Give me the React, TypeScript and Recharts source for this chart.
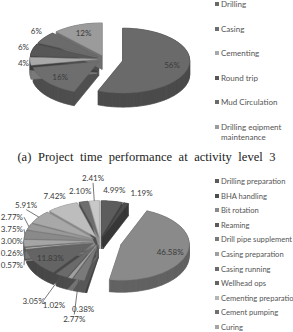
import React from "react";
import { PieChart, Pie, Cell } from "recharts";

// (a) activity level 3
const level3Names = ["Drilling", "Casing", "Cementing", "Round trip", "Mud Circulation", "Drilling eqipment maintenance"];
const level3Share = [56, 16, 4, 6, 6, 12];
const level3Tone = ["#6a6a6a", "#6e6e6e", "#a9a9a9", "#575757", "#6b6b6b", "#9b9b9b"];

// (b) activity level 4 - legend is cut off after "Curing", the last six names are guesses
const level4Names = [
  "Drilling preparation", "BHA handling", "Bit rotation", "Reaming", "Drill pipe supplement",
  "Casing preparation", "Casing running", "Wellhead ops", "Cementing preparation", "Cement pumping",
  "Curing", "BOP installation", "BOP testing", "Logging", "Waiting", "Rig repair", "Others",
];
const level4Share = [4.99, 1.19, 46.58, 0.38, 2.77, 1.02, 3.05, 11.83, 0.57, 0.26, 3.0, 3.75, 2.77, 5.91, 7.42, 2.1, 2.41];
const level4Tone = [
  "#5c5c5c", "#4d4d4d", "#8a8a8a", "#5a5a5a", "#7a7a7a", "#a0a0a0", "#6a6a6a", "#646464", "#b5b5b5",
  "#707070", "#a5a5a5", "#8a8a8a", "#9a9a9a", "#a8a8a8", "#bdbdbd", "#6e6e6e", "#c8c8c8",
];

type Geo = { cx: number; cy: number; r: number; ky: number; depth: number; push: number; bigPush: number; decimals: number };

const geo1: Geo = { cx: 105, cy: 59, r: 67, ky: 0.485, depth: 14, push: 8, bigPush: 18, decimals: 0 };
const geo2: Geo = { cx: 100, cy: 76, r: 68, ky: 0.53, depth: 12, push: 8, bigPush: 22, decimals: 2 };

const RAD = Math.PI / 180;
const LABEL_FONT = "Lato, 'Open Sans', sans-serif";
const PAGE_H = 332;

function darken(hex: string, f: number) {
  const n = parseInt(hex.slice(1), 16);
  const c = [(n >> 16) & 255, (n >> 8) & 255, n & 255].map((v) => Math.round(v * f));
  return `rgb(${c[0]},${c[1]},${c[2]})`;
}

// exploded vertex of a slice, on the tilted ellipse
function vertexOf(g: Geo, cx: number, cy: number, mid: number, frac: number) {
  const p = frac > 0.4 ? g.bigPush : g.push;
  return [cx + p * Math.cos(mid * RAD), cy - p * g.ky * Math.sin(mid * RAD)];
}

function slicePoints(g: Geo, vx: number, vy: number, r: number, a0: number, a1: number) {
  const n = Math.max(2, Math.ceil(Math.abs(a1 - a0) / 2));
  const pts: number[][] = [[vx, vy]];
  for (let i = 0; i <= n; i++) {
    const a = (a0 + ((a1 - a0) * i) / n) * RAD;
    pts.push([vx + r * Math.cos(a), vy - r * g.ky * Math.sin(a)]);
  }
  return pts;
}

function area(pts: number[][]) {
  let s = 0;
  for (let i = 0; i < pts.length; i++) {
    const a = pts[i];
    const b = pts[(i + 1) % pts.length];
    s += a[0] * b[1] - b[0] * a[1];
  }
  return s;
}

function sub(pts: number[][]) {
  const p = area(pts) < 0 ? [...pts].reverse() : pts;
  return "M" + p.map((q) => `${q[0].toFixed(2)},${q[1].toFixed(2)}`).join("L") + "Z";
}

function sideRenderer(g: Geo, tones: string[]) {
  return (props: any) => {
    const { cx, cy, outerRadius, startAngle, endAngle, percent, index } = props;
    const mid = (startAngle + endAngle) / 2;
    const [vx, vy] = vertexOf(g, cx, cy, mid, percent);
    const pts = slicePoints(g, vx, vy, outerRadius, startAngle, endAngle);
    const low = pts.map((q) => [q[0], q[1] + g.depth]);
    let d = sub(low);
    for (let i = 0; i < pts.length; i++) {
      const j = (i + 1) % pts.length;
      d += sub([pts[i], pts[j], low[j], low[i]]);
    }
    const side = darken(tones[index], 0.72);
    return <path key={`side-${index}`} d={d} fill={side} stroke={side} strokeWidth={0.4} fillRule="nonzero" />;
  };
}

function topRenderer(g: Geo, tones: string[]) {
  return (props: any) => {
    const { cx, cy, outerRadius, startAngle, endAngle, percent, index } = props;
    const mid = (startAngle + endAngle) / 2;
    const [vx, vy] = vertexOf(g, cx, cy, mid, percent);
    const pts = slicePoints(g, vx, vy, outerRadius, startAngle, endAngle);
    return <path key={`top-${index}`} d={sub(pts)} fill={tones[index]} stroke={darken(tones[index], 0.9)} strokeWidth={0.4} />;
  };
}

type Placed = { txt: string; x: number; y: number; anchor: "middle" | "end"; line?: number[] };

// data label placement: big slices inside, small ones outside, far-left ones stacked in a column
function placeLabels(shares: number[], g: Geo): Placed[] {
  const total = shares.reduce((a, b) => a + b, 0);
  let acc = 0;
  const out: Placed[] = [];
  const column: any[] = [];
  const rest: any[] = [];
  shares.forEach((v, i) => {
    const a0 = 90 - (acc / total) * 360;
    acc += v;
    const a1 = 90 - (acc / total) * 360;
    const mid = (a0 + a1) / 2;
    const c = Math.cos(mid * RAD);
    const s = Math.sin(mid * RAD);
    const [vx, vy] = vertexOf(g, g.cx, g.cy, mid, v / total);
    const txt = v.toFixed(g.decimals) + "%";
    const w = txt.length * 3.9;
    if (v / total >= 0.1) {
      out[i] = { txt, x: vx + 0.75 * g.r * c, y: vy - 0.75 * g.r * g.ky * s, anchor: "middle" };
      return;
    }
    const drop = s < 0 ? -s * (g.depth + 6) : 0;
    const ex = vx + g.r * c;
    const ey = vy - g.r * g.ky * s;
    const px = vx + (g.r + 6) * c;
    const py = vy - (g.ky * g.r + 6) * s + drop;
    const item = { i, txt, w, s, c, ex, ey, x: px + (c * w) / 2, y: py - s * 5, ny: py - s * 5 };
    if (c < -0.85) column.push(item);
    else rest.push(item);
  });

  // column on the left
  const colX = g.cx - g.r - 9;
  const gap = 12;
  column.sort((a, b) => a.ny - b.ny);
  const groups = column.map((it) => ({ items: [it], mean: it.ny }));
  let merged = true;
  while (merged) {
    merged = false;
    for (let k = 1; k < groups.length; k++) {
      const a = groups[k - 1];
      const b = groups[k];
      const aTop = a.mean - ((a.items.length - 1) * gap) / 2;
      const bTop = b.mean - ((b.items.length - 1) * gap) / 2;
      if (aTop + a.items.length * gap > bTop) {
        const items = [...a.items, ...b.items];
        groups.splice(k - 1, 2, { items, mean: items.reduce((s2, it) => s2 + it.ny, 0) / items.length });
        merged = true;
        break;
      }
    }
  }
  const boxes: number[][] = [];
  groups.forEach((gr) => {
    const top = gr.mean - ((gr.items.length - 1) * gap) / 2;
    gr.items.forEach((it: any, k: number) => {
      const y = top + k * gap;
      const dist = Math.hypot(it.ex - (colX + 1), it.ey - y);
      out[it.i] = { txt: it.txt, x: colX, y, anchor: "end", line: dist > 5 ? [colX + 1, y, it.ex, it.ey] : undefined };
      boxes.push([colX - it.w, y - 5, colX, y + 5]);
    });
  });

  // the rest: try small shifts (sideways / outwards) until free
  rest.forEach((it) => {
    const hit = (xx: number, yy: number) =>
      boxes.some((b) => xx - it.w / 2 < b[2] && xx + it.w / 2 > b[0] && yy - 5 < b[3] && yy + 5 > b[1]);
    const sx = it.c >= 0 ? 10 : -10;
    const sy = it.s > 0 ? -6 : 6;
    const tries: number[][] = [[0, 0]];
    for (let k = 1; k <= 6; k++) {
      if (it.s > 0) tries.push([sx * k, 0], [0, sy * k]);
      else tries.push([0, sy * k], [sx * k, 0]);
    }
    const pick = tries.find((t) => !hit(it.x + t[0], it.y + t[1])) || [0, 0];
    const x = it.x + pick[0];
    const y = it.y + pick[1];
    boxes.push([x - it.w / 2, y - 5, x + it.w / 2, y + 5]);
    const far = pick[1] !== 0 || Math.abs(pick[0]) > 10;
    const lx = pick[0] !== 0 ? x - (Math.sign(pick[0]) * it.w) / 2 : x;
    const ly = pick[0] !== 0 ? y : y + (it.s > 0 ? 5 : -5);
    const dist = Math.hypot(it.ex - lx, it.ey - ly);
    out[it.i] = { txt: it.txt, x, y, anchor: "middle", line: far && dist > 5 ? [lx, ly, it.ex, it.ey] : undefined };
  });
  return out;
}

function textRenderer(placed: Placed[]) {
  return (props: any) => {
    const p = placed[props.index];
    return (
      <g key={`lbl-${props.index}`}>
        {p.line && <line x1={p.line[0]} y1={p.line[1]} x2={p.line[2]} y2={p.line[3]} stroke="#555" strokeWidth={0.8} />}
        <text x={p.x} y={p.y} textAnchor={p.anchor} dominantBaseline="central" fontSize={8} fontFamily={LABEL_FONT} fill="#3a3a3a">
          {p.txt}
        </text>
      </g>
    );
  };
}

function Pie3D({ names, shares, tones, g, height }: { names: string[]; shares: number[]; tones: string[]; g: Geo; height: number }) {
  const data = names.map((name, i) => ({ name, value: shares[i] }));
  const placed = placeLabels(shares, g);
  const layers = [
    { id: "side", render: sideRenderer(g, tones) },
    { id: "top", render: topRenderer(g, tones) },
    { id: "text", render: textRenderer(placed) },
  ];
  return (
    <PieChart width={293} height={height} margin={{ top: 0, right: 0, bottom: 0, left: 0 }}>
      {layers.map((layer) => (
        <Pie
          key={layer.id}
          data={data}
          dataKey="value"
          nameKey="name"
          cx={g.cx}
          cy={g.cy}
          outerRadius={g.r}
          startAngle={90}
          endAngle={-270}
          stroke="none"
          label={layer.render}
          labelLine={false}
          isAnimationActive={false}
        >
          {data.map((_, i) => (
            <Cell key={`c-${i}`} fill="transparent" />
          ))}
        </Pie>
      ))}
    </PieChart>
  );
}

function LegendList({ names, tones, top, left, step, width, size }: { names: string[]; tones: string[]; top: number; left: number; step: number; width: number; size: number }) {
  // the picture only shows the entries that fit on the page
  const shown = names.filter((_, i) => top + i * step + 6 < PAGE_H);
  return (
    <div style={{ position: "absolute", left, top, width, fontFamily: LABEL_FONT, fontSize: size, color: "#555" }}>
      {shown.map((n, i) => (
        <div key={n} style={{ position: "absolute", top: i * step, left: 0, display: "flex", alignItems: "flex-start", width, whiteSpace: width > 90 ? "nowrap" : "normal", lineHeight: "10px" }}>
          <span style={{ display: "inline-block", width: 4, height: 4, background: tones[i], marginTop: 3, marginRight: 2, flex: "0 0 auto" }} />
          <span>{n}</span>
        </div>
      ))}
    </div>
  );
}

export default function App() {
  return (
    <div style={{ position: "absolute", left: 0, top: 0, width: 293, height: PAGE_H, background: "#fff", overflow: "hidden" }}>
      <div style={{ position: "absolute", left: 0, top: 0 }}>
        <Pie3D names={level3Names} shares={level3Share} tones={level3Tone} g={geo1} height={150} />
      </div>
      <LegendList names={level3Names} tones={level3Tone} top={-1} left={215} step={24.6} width={72} size={8} />
      <div
        style={{
          position: "absolute", left: 0, top: 150, width: 293, textAlign: "center",
          fontFamily: "'Liberation Serif', 'DejaVu Serif', serif", fontSize: 12.5, color: "#222", wordSpacing: 3.5,
          whiteSpace: "nowrap",
        }}
      >
        (a) Project time performance at activity level 3
      </div>
      <div style={{ position: "absolute", left: 0, top: 165 }}>
        <Pie3D names={level4Names} shares={level4Share} tones={level4Tone} g={geo2} height={167} />
      </div>
      <LegendList names={level4Names} tones={level4Tone} top={176} left={215} step={14.6} width={120} size={7.6} />
    </div>
  );
}
